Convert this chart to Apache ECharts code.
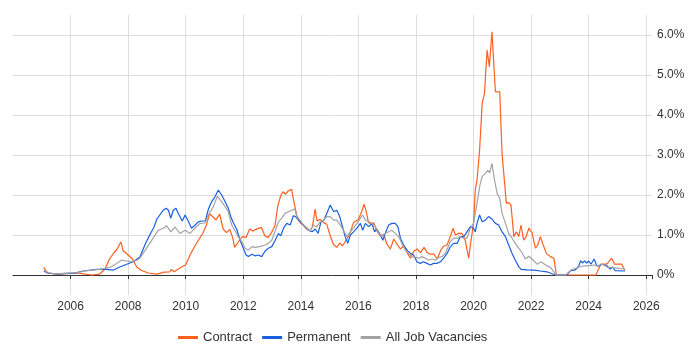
<!DOCTYPE html>
<html>
<head>
<meta charset="utf-8">
<script src="https://cdn.jsdelivr.net/npm/echarts@6/dist/echarts.min.js"></script>
<style>html,body{margin:0;padding:0;background:#fff}#c{width:700px;height:350px}</style>
</head>
<body>
<div id="c"></div>
<script>
const contractYears = [2005.07,2005.2,2005.5,2005.75,2006.0,2006.25,2006.5,2006.75,2007.0,2007.2,2007.35,2007.5,2007.62,2007.75,2007.82,2008.0,2008.15,2008.3,2008.45,2008.7,2009.0,2009.25,2009.45,2009.5,2009.6,2009.85,2010.0,2010.15,2010.3,2010.45,2010.6,2010.72,2010.83,2010.95,2011.05,2011.18,2011.3,2011.42,2011.53,2011.63,2011.7,2011.8,2011.97,2012.1,2012.22,2012.33,2012.5,2012.63,2012.75,2012.86,2012.98,2013.1,2013.2,2013.3,2013.38,2013.47,2013.56,2013.68,2013.74,2013.8,2013.86,2013.97,2014.1,2014.2,2014.32,2014.4,2014.5,2014.56,2014.67,2014.79,2014.9,2015.02,2015.13,2015.25,2015.35,2015.45,2015.6,2015.71,2015.83,2016.0,2016.12,2016.2,2016.28,2016.35,2016.45,2016.53,2016.64,2016.76,2016.88,2016.99,2017.11,2017.23,2017.34,2017.46,2017.58,2017.69,2017.81,2017.93,2018.04,2018.16,2018.28,2018.39,2018.5,2018.62,2018.74,2018.86,2018.96,2019.08,2019.19,2019.29,2019.37,2019.48,2019.6,2019.71,2019.83,2019.9,2020.0,2020.06,2020.12,2020.21,2020.3,2020.38,2020.47,2020.55,2020.64,2020.76,2020.91,2020.99,2021.05,2021.14,2021.22,2021.3,2021.4,2021.49,2021.57,2021.65,2021.74,2021.83,2021.92,2022.03,2022.15,2022.23,2022.32,2022.42,2022.53,2022.67,2022.79,2022.88,2024.25,2024.42,2024.63,2024.8,2024.9,2025.15,2025.25];
const contractValues = [0.19,0.05,0.02,0.03,0.04,0.05,0.02,0.0,0.02,0.15,0.4,0.55,0.65,0.83,0.62,0.5,0.4,0.2,0.12,0.05,0.02,0.07,0.08,0.14,0.08,0.2,0.25,0.5,0.7,0.88,1.05,1.25,1.53,1.45,1.38,1.52,1.15,1.06,1.14,0.94,0.69,0.8,0.96,0.94,1.15,1.1,1.16,1.19,0.98,0.94,1.06,1.23,1.73,1.98,2.08,2.02,2.1,2.14,1.9,1.85,1.48,1.31,1.23,1.15,1.1,1.2,1.65,1.35,1.39,1.31,1.27,0.98,0.77,0.69,0.8,0.73,0.9,1.06,1.31,1.39,1.6,1.77,1.56,1.31,1.27,1.31,1.1,0.98,1.02,0.77,0.65,0.9,0.77,0.65,0.73,0.56,0.42,0.6,0.65,0.56,0.69,0.56,0.52,0.52,0.4,0.62,0.72,0.75,0.96,1.17,1.0,1.04,1.04,0.87,0.42,0.8,1.29,2.12,2.37,3.12,4.29,4.54,5.62,5.21,6.08,4.58,4.58,3.04,2.99,1.79,1.81,1.75,0.96,1.08,0.96,1.25,0.87,0.96,1.17,1.06,0.67,0.75,0.96,0.75,0.54,0.46,0.42,0.0,0.0,0.27,0.27,0.42,0.27,0.27,0.12];

const permanentYears = [2005.07,2005.2,2005.57,2005.82,2006.1,2006.44,2006.9,2007.25,2007.48,2007.71,2007.95,2008.18,2008.41,2008.6,2008.75,2008.9,2009.0,2009.1,2009.22,2009.32,2009.4,2009.48,2009.57,2009.66,2009.77,2009.88,2009.98,2010.1,2010.2,2010.33,2010.44,2010.56,2010.68,2010.79,2010.9,2011.02,2011.13,2011.25,2011.37,2011.48,2011.57,2011.66,2011.77,2011.89,2012.0,2012.1,2012.18,2012.3,2012.41,2012.52,2012.64,2012.76,2012.87,2012.99,2013.11,2013.22,2013.3,2013.4,2013.51,2013.63,2013.74,2013.82,2013.92,2014.04,2014.15,2014.27,2014.39,2014.5,2014.6,2014.7,2014.8,2014.9,2015.02,2015.14,2015.25,2015.35,2015.43,2015.54,2015.63,2015.72,2015.83,2015.95,2016.07,2016.15,2016.24,2016.36,2016.47,2016.56,2016.64,2016.76,2016.85,2016.93,2017.05,2017.16,2017.28,2017.37,2017.46,2017.57,2017.69,2017.8,2017.92,2018.03,2018.15,2018.26,2018.38,2018.5,2018.61,2018.73,2018.85,2018.96,2019.08,2019.2,2019.31,2019.43,2019.54,2019.66,2019.77,2019.89,2020.0,2020.06,2020.12,2020.21,2020.3,2020.41,2020.52,2020.58,2020.64,2020.76,2020.87,2020.99,2021.11,2021.22,2021.34,2021.45,2021.57,2021.65,2021.86,2022.09,2022.32,2022.55,2022.73,2022.85,2023.25,2023.37,2023.54,2023.66,2023.72,2023.78,2023.86,2023.93,2024.0,2024.08,2024.19,2024.28,2024.37,2024.48,2024.63,2024.75,2024.83,2024.92,2025.27];
const permanentValues = [0.1,0.05,0.02,0.04,0.04,0.1,0.14,0.14,0.12,0.2,0.27,0.33,0.45,0.78,1.0,1.2,1.4,1.5,1.62,1.67,1.62,1.42,1.62,1.67,1.5,1.35,1.5,1.33,1.17,1.25,1.33,1.35,1.35,1.65,1.83,1.96,2.12,2.0,1.83,1.67,1.45,1.3,1.15,0.87,0.67,0.5,0.46,0.52,0.48,0.5,0.46,0.6,0.67,0.71,0.87,1.04,0.98,1.17,1.29,1.25,1.48,1.46,1.37,1.29,1.21,1.12,1.08,1.15,1.04,1.33,1.37,1.54,1.75,1.58,1.62,1.46,1.25,0.96,0.79,1.0,1.08,1.17,1.29,1.12,1.29,1.21,1.29,1.08,1.15,1.0,0.87,1.04,1.25,1.29,1.29,1.21,0.92,0.75,0.62,0.54,0.5,0.33,0.29,0.33,0.29,0.25,0.29,0.29,0.33,0.42,0.54,0.71,0.79,0.79,0.96,0.96,1.08,1.21,1.17,1.08,1.29,1.5,1.33,1.37,1.46,1.47,1.4,1.29,1.25,1.08,0.96,0.75,0.54,0.37,0.21,0.14,0.13,0.12,0.1,0.08,0.03,0.0,0.0,0.11,0.13,0.23,0.36,0.3,0.35,0.3,0.35,0.27,0.4,0.23,0.23,0.27,0.23,0.15,0.2,0.11,0.1];

const allJobsYears = [2005.07,2005.25,2005.5,2005.75,2006.0,2006.25,2006.5,2006.75,2007.0,2007.25,2007.4,2007.6,2007.77,2007.95,2008.13,2008.3,2008.41,2008.64,2008.87,2009.05,2009.22,2009.34,2009.48,2009.63,2009.8,2009.98,2010.15,2010.32,2010.5,2010.67,2010.79,2010.96,2011.1,2011.25,2011.37,2011.48,2011.6,2011.72,2011.83,2011.95,2012.06,2012.18,2012.3,2012.41,2012.58,2012.76,2012.87,2012.99,2013.1,2013.22,2013.34,2013.45,2013.57,2013.69,2013.79,2013.86,2013.97,2014.09,2014.2,2014.32,2014.44,2014.55,2014.67,2014.79,2014.9,2015.02,2015.14,2015.25,2015.37,2015.48,2015.6,2015.72,2015.83,2015.95,2016.07,2016.15,2016.24,2016.36,2016.47,2016.59,2016.7,2016.82,2016.93,2017.05,2017.16,2017.28,2017.4,2017.51,2017.63,2017.75,2017.86,2017.98,2018.1,2018.21,2018.33,2018.44,2018.56,2018.68,2018.79,2018.9,2019.02,2019.19,2019.31,2019.43,2019.54,2019.66,2019.77,2019.89,2020.0,2020.12,2020.21,2020.3,2020.41,2020.5,2020.56,2020.64,2020.73,2020.82,2020.91,2020.99,2021.11,2021.22,2021.34,2021.45,2021.57,2021.69,2021.8,2021.92,2022.03,2022.21,2022.35,2022.5,2022.67,2022.79,2022.85,2023.2,2023.4,2023.6,2023.83,2024.0,2024.19,2024.3,2024.48,2024.67,2024.8,2025.0,2025.27];
const allJobsValues = [0.12,0.05,0.03,0.04,0.05,0.06,0.1,0.12,0.14,0.17,0.2,0.29,0.37,0.35,0.33,0.37,0.42,0.67,0.92,1.12,1.17,1.23,1.08,1.2,1.04,1.12,1.04,1.17,1.29,1.3,1.5,1.71,1.97,1.83,1.71,1.58,1.25,1.1,0.95,0.83,0.67,0.62,0.71,0.69,0.71,0.75,0.79,0.87,1.08,1.33,1.42,1.54,1.58,1.62,1.65,1.46,1.37,1.25,1.18,1.1,1.25,1.2,1.33,1.37,1.46,1.46,1.37,1.37,1.25,1.12,0.96,1.08,1.17,1.29,1.42,1.5,1.37,1.33,1.29,1.21,1.04,0.96,1.04,1.08,1.12,1.04,0.96,0.79,0.62,0.54,0.46,0.44,0.42,0.46,0.42,0.37,0.4,0.37,0.44,0.46,0.54,0.83,0.92,0.92,0.96,0.92,0.92,1.17,1.29,1.79,2.21,2.46,2.54,2.62,2.55,2.79,2.37,2.04,1.92,1.54,1.29,1.04,0.92,0.79,0.67,0.55,0.4,0.47,0.4,0.27,0.33,0.25,0.19,0.08,0.0,0.0,0.13,0.18,0.23,0.23,0.25,0.23,0.27,0.19,0.19,0.17,0.15];

const seriesNames = ['Contract', 'Permanent', 'All Job Vacancies'];
const seriesColors = ['#ff5f1f', '#1a5fe0', '#a3a3a3'];

function pairs(xs, ys) { return xs.map((x, i) => [x, ys[i]]); }

const chart = echarts.init(document.getElementById('c'));
const font = 'Arial, "Liberation Sans", sans-serif';
chart.setOption({
  animation: false,
  textStyle: { fontFamily: font },
  grid: { left: 13, right: 48, top: 15, bottom: 55 },
  legend: {
    data: seriesNames,
    left: 173, top: 326,
    icon: 'rect', itemWidth: 20, itemHeight: 3, itemGap: 10,
    textStyle: { fontSize: 13, color: '#333', fontFamily: font }
  },
  xAxis: {
    type: 'value', min: 2004, max: 2026.2, interval: 2,
    axisLine: { show: true, lineStyle: { color: '#333', width: 1 } },
    axisTick: { show: true, length: 4, lineStyle: { color: '#333' } },
    axisLabel: {
      color: '#333', fontSize: 12, margin: 6,
      showMinLabel: false,
      formatter: v => (v > 2004 && Math.abs(v - Math.round(v)) < 1e-6 && Math.round(v) % 2 === 0) ? String(Math.round(v)) : ''
    },
    splitLine: { show: true, showMinLine: false, showMaxLine: false, lineStyle: { color: '#dddddd', width: 1 } }
  },
  yAxis: {
    type: 'value', position: 'right', min: -0.5, max: 6.5, splitNumber: 7,
    axisLine: { show: false }, axisTick: { show: false },
    axisLabel: {
      color: '#333', fontSize: 12, margin: 5,
      formatter: v => {
        if (v < -1e-6 || v > 6 + 1e-6) return '';
        if (Math.abs(v) < 1e-6) return '0%';
        return v.toFixed(1) + '%';
      }
    },
    splitLine: { show: true, showMinLine: false, showMaxLine: false, lineStyle: { color: '#dddddd', width: 1 } }
  },
  series: [
    { name: seriesNames[0], type: 'line', data: pairs(contractYears, contractValues), showSymbol: false, color: seriesColors[0], lineStyle: { width: 1.2, color: seriesColors[0] } },
    { name: seriesNames[1], type: 'line', data: pairs(permanentYears, permanentValues), showSymbol: false, color: seriesColors[1], lineStyle: { width: 1.2, color: seriesColors[1] } },
    { name: seriesNames[2], type: 'line', data: pairs(allJobsYears, allJobsValues), showSymbol: false, color: seriesColors[2], lineStyle: { width: 1.2, color: seriesColors[2] } }
  ]
});
</script>
</body>
</html>
